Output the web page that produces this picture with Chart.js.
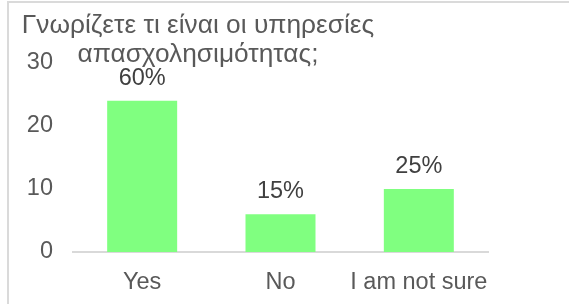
<!DOCTYPE html>
<html>
<head>
<meta charset="utf-8">
<script src="https://cdn.jsdelivr.net/npm/chart.js@4.4.0/dist/chart.umd.min.js"></script>
<style>
  html, body { margin: 0; padding: 0; background: #fff; overflow: hidden; }
  #wrap { position: relative; width: 569px; height: 304px; overflow: hidden; }
  #frame { position: absolute; left: 7px; top: 1px; width: 700px; height: 400px; border: 2px solid #dadada; }
  #chart { position: absolute; left: 0; top: 0; }
</style>
</head>
<body>
<div id="wrap">
  <div id="frame"></div>
  <canvas id="chart" width="569" height="304"></canvas>
</div>
<script>
const categories = ['Yes', 'No', 'I am not sure'];
const counts = [24, 6, 10];
const yTicks = [0, 10, 20, 30];
const titleLines = ['Γνωρίζετε τι είναι οι υπηρεσίες', 'απασχολησιμότητας;'];

const FONT = '"Liberation Sans", Arial, sans-serif';
const total = counts.reduce((a, b) => a + b, 0);
const percents = counts.map(v => Math.round(v / total * 100) + '%');

// title overlaps the plot like in the original, so draw it by hand
const titlePlugin = {
  id: 'titleOverlay',
  afterDraw(chart) {
    const ctx = chart.ctx;
    ctx.save();
    ctx.font = '26.3px ' + FONT;
    ctx.fillStyle = '#595959';
    ctx.textAlign = 'center';
    ctx.textBaseline = 'alphabetic';
    ctx.fillText(titleLines[0], 198, 33);
    ctx.fillText(titleLines[1], 198, 62);
    ctx.restore();
  }
};

const barLabels = {
  id: 'barLabels',
  afterDatasetsDraw(chart) {
    const ctx = chart.ctx;
    ctx.save();
    ctx.font = '23.5px ' + FONT;
    ctx.fillStyle = '#404040';
    ctx.textAlign = 'center';
    ctx.textBaseline = 'alphabetic';
    chart.getDatasetMeta(0).data.forEach((bar, i) => {
      ctx.fillText(percents[i], bar.x, bar.y - 16);
    });
    ctx.restore();
  }
};

new Chart(document.getElementById('chart'), {
  type: 'bar',
  data: {
    labels: categories,
    datasets: [{
      data: counts,
      backgroundColor: '#80ff80',
      barPercentage: 0.506,
      categoryPercentage: 1
    }]
  },
  options: {
    responsive: false,
    animation: false,
    layout: { padding: { top: 63, right: 81, bottom: 0, left: 0 } },
    plugins: {
      legend: { display: false },
      title: { display: false },
      tooltip: { enabled: false }
    },
    scales: {
      x: {
        grid: { display: false },
        border: { display: true, color: '#d9d9d9', width: 2 },
        ticks: { color: '#595959', font: { family: FONT, size: 23.5 }, padding: 8, autoSkip: false, maxRotation: 0 },
        afterFit(scale) { scale.height = 52; }
      },
      y: {
        min: 0,
        max: 30,
        afterBuildTicks(scale) { scale.ticks = yTicks.map(v => ({ value: v })); },
        grid: { display: false, drawTicks: false },
        border: { display: false },
        ticks: { color: '#595959', font: { family: FONT, size: 23.5 }, padding: 20 },
        afterFit(scale) { scale.width = 73; }
      }
    }
  },
  plugins: [barLabels, titlePlugin]
});
</script>
</body>
</html>
